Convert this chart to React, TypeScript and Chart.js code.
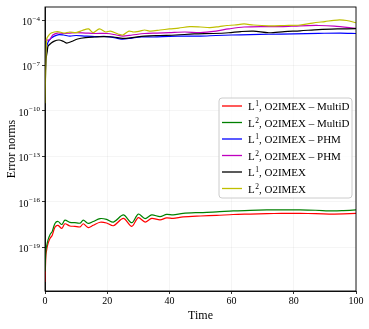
import { useEffect, useRef } from 'react';
import { Chart, registerables } from 'chart.js';

Chart.register(...registerables);

const SERIF = '"Liberation Serif", "DejaVu Serif", serif';

// ---- data (values stored as log10 exponents) ----
const xTickValues = [0, 20, 40, 60, 80, 100];
const yTickExponents = [-4, -7, -10, -13, -16, -19];

const timeGreen = [0, 0.3, 0.6, 1.0, 1.6, 2.3, 3.2, 4.2, 5.4, 6.4, 8, 9.6, 11.3, 12.3, 13.9, 15.5, 17.7, 19.8, 22, 25.2, 27.9, 30, 32.2, 34.3, 37, 39.1, 41.2, 44.4, 50, 55.2, 60.5, 66, 71.3, 76, 82, 87, 92.6, 96, 100];
const logGreen = [-20.6, -19.17, -18.84, -18.5, -18.17, -17.97, -17.43, -17.3, -17.5, -17.21, -17.36, -17.38, -17.41, -17.21, -17.43, -17.3, -17.11, -17.16, -17.34, -16.87, -17.38, -16.81, -17.11, -16.87, -16.98, -16.83, -16.87, -16.76, -16.71, -16.67, -16.6, -16.57, -16.54, -16.53, -16.54, -16.56, -16.6, -16.58, -16.54];

const timeRed = timeGreen;
const logRed = [-21.3, -19.5, -19.1, -18.75, -18.42, -18.22, -17.68, -17.56, -17.76, -17.45, -17.6, -17.62, -17.66, -17.45, -17.7, -17.55, -17.35, -17.4, -17.58, -17.1, -17.62, -17.05, -17.34, -17.1, -17.2, -17.06, -17.1, -17.0, -16.94, -16.9, -16.84, -16.81, -16.78, -16.77, -16.77, -16.78, -16.81, -16.8, -16.77];

const timeBlue = [0, 0.5, 1, 2, 3, 4.5, 6, 8, 10, 13, 16, 20, 23, 25, 28, 31, 35, 40, 45, 50, 55, 60, 66, 72, 80, 88, 95, 100];
const logBlue = [-8.0, -5.85, -5.45, -5.19, -5.06, -4.96, -4.99, -5.06, -5.02, -5.06, -5.09, -5.09, -5.19, -5.27, -5.19, -5.12, -5.12, -5.08, -5.06, -5.06, -5.02, -4.99, -4.96, -4.94, -4.91, -4.88, -4.86, -4.89];

const timeMagenta = [0, 1.5, 2.5, 4, 6, 8, 10, 13, 16, 20, 23, 25, 28, 32, 36, 40, 45, 50, 55, 59, 64, 70, 76, 82, 88, 93, 100];
const logMagenta = [-5.32, -5.3, -4.99, -4.86, -4.89, -4.86, -4.83, -4.86, -4.89, -4.89, -4.99, -5.06, -4.99, -4.89, -4.86, -4.83, -4.79, -4.83, -4.73, -4.59, -4.46, -4.43, -4.44, -4.38, -4.36, -4.4, -4.55];

const timeBlack = [0, 0.3, 0.7, 1, 2, 3, 4.5, 6, 7, 8.5, 10.5, 13, 16, 19, 22, 25, 28, 32, 37, 42, 48, 54, 59, 63, 67, 72, 77, 82, 88, 94, 100];
const logBlack = [-9.5, -6.64, -6.11, -5.72, -5.52, -5.39, -5.32, -5.42, -5.52, -5.42, -5.25, -5.16, -5.12, -5.09, -5.12, -5.21, -5.16, -5.06, -5.02, -4.99, -4.92, -4.89, -4.84, -4.76, -4.73, -4.84, -4.76, -4.71, -4.63, -4.59, -4.57];

const timeYellow = [0, 0.5, 1, 2, 4, 6, 8, 10, 12, 14, 15.5, 17.5, 19.5, 21, 23.5, 25, 27, 28.5, 30.5, 32, 34, 37, 40, 43, 46.6, 50, 53, 56, 58.5, 61, 64, 67, 72, 77, 82, 86, 90, 94, 97, 100];
const logYellow = [-9.5, -5.3, -5.06, -4.86, -4.76, -4.86, -4.79, -4.83, -4.69, -4.59, -4.83, -4.59, -4.79, -4.73, -4.92, -4.99, -4.73, -4.79, -4.73, -4.66, -4.73, -4.66, -4.59, -4.53, -4.44, -4.46, -4.5, -4.43, -4.36, -4.33, -4.26, -4.33, -4.38, -4.36, -4.33, -4.2, -4.1, -4.0, -4.03, -4.18];

const seriesSup = ['1', '2', '1', '2', '1', '2'];
const seriesRest = [', O2IMEX \u2013 MultiD', ', O2IMEX \u2013 MultiD', ', O2IMEX \u2013 PHM', ', O2IMEX \u2013 PHM', ', O2IMEX', ', O2IMEX'];
const seriesColors = ['#ff0000', '#008000', '#0000ff', '#bf00bf', '#000000', '#bfbf00'];
const seriesTimes = [timeRed, timeGreen, timeBlue, timeMagenta, timeBlack, timeYellow];
const seriesLogs = [logRed, logGreen, logBlue, logMagenta, logBlack, logYellow];

const yMinExp = -21.89;
const yMaxExp = -3.14;

const supMap: Record<string, string> = {};

function drawPower(ctx: CanvasRenderingContext2D, xRight: number, y: number, exp: number) {
  const base = '10';
  const e = '\u2212' + String(Math.abs(exp));
  ctx.font = `10px ${SERIF}`;
  const wb = ctx.measureText(base).width;
  ctx.font = `7px ${SERIF}`;
  const we = ctx.measureText(e).width;
  const x0 = xRight - we - wb - 0.5;
  ctx.textAlign = 'left';
  ctx.textBaseline = 'alphabetic';
  ctx.fillStyle = '#000';
  ctx.font = `10px ${SERIF}`;
  ctx.fillText(base, x0, y + 5);
  ctx.font = `7px ${SERIF}`;
  ctx.fillText(e, x0 + wb + 0.5, y + 0.5);
}

const axesPlugin = {
  id: 'axesDecor',
  afterDraw(chart: any) {
    const { ctx, chartArea } = chart;
    const yScale = chart.scales.y;
    ctx.save();
    // frame
    ctx.strokeStyle = '#000';
    ctx.lineWidth = 0.9;
    ctx.strokeRect(chartArea.left, chartArea.top, chartArea.right - chartArea.left, chartArea.bottom - chartArea.top);
    // y tick labels with superscripts
    yTickExponents.forEach((e) => {
      const py = yScale.getPixelForValue(Math.pow(10, e));
      drawPower(ctx, chartArea.left - 5, py, e);
    });
    // legend
    const w = 133;
    const h = 100;
    const x0 = chartArea.right - 4 - w;
    const y0 = chartArea.top + 91;
    ctx.beginPath();
    const r = 3;
    ctx.moveTo(x0 + r, y0);
    ctx.lineTo(x0 + w - r, y0);
    ctx.quadraticCurveTo(x0 + w, y0, x0 + w, y0 + r);
    ctx.lineTo(x0 + w, y0 + h - r);
    ctx.quadraticCurveTo(x0 + w, y0 + h, x0 + w - r, y0 + h);
    ctx.lineTo(x0 + r, y0 + h);
    ctx.quadraticCurveTo(x0, y0 + h, x0, y0 + h - r);
    ctx.lineTo(x0, y0 + r);
    ctx.quadraticCurveTo(x0, y0, x0 + r, y0);
    ctx.closePath();
    ctx.fillStyle = 'rgba(255,255,255,0.8)';
    ctx.fill();
    ctx.strokeStyle = '#cccccc';
    ctx.lineWidth = 1;
    ctx.stroke();
    for (let i = 0; i < seriesColors.length; i++) {
      const cy = y0 + 8 + i * 16.5;
      ctx.beginPath();
      ctx.moveTo(x0 + 3, cy);
      ctx.lineTo(x0 + 23, cy);
      ctx.strokeStyle = seriesColors[i];
      ctx.lineWidth = 1.3;
      ctx.stroke();
      ctx.fillStyle = '#000';
      ctx.textAlign = 'left';
      ctx.textBaseline = 'alphabetic';
      let tx = x0 + 29;
      ctx.font = `11px ${SERIF}`;
      ctx.fillText('L', tx, cy + 4);
      tx += ctx.measureText('L').width + 0.5;
      ctx.font = `7.5px ${SERIF}`;
      ctx.fillText(seriesSup[i], tx, cy);
      tx += ctx.measureText(seriesSup[i]).width;
      ctx.font = `11px ${SERIF}`;
      ctx.fillText(seriesRest[i], tx, cy + 4);
    }
    ctx.restore();
  },
};

export default function App() {
  const canvasRef = useRef<HTMLCanvasElement | null>(null);

  useEffect(() => {
    document.body.style.margin = '0';
    const canvas = canvasRef.current;
    if (!canvas) return;
    const datasets = seriesColors.map((color, i) => ({
      label: 'L' + seriesSup[i] + seriesRest[i],
      data: seriesTimes[i].map((t, k) => ({ x: t, y: Math.pow(10, seriesLogs[i][k]) })),
      borderColor: color,
      backgroundColor: color,
      borderWidth: 1.2,
      pointRadius: 0,
      tension: 0.3,
      fill: false,
      order: seriesColors.length - i,
    }));
    const chart = new Chart(canvas, {
      type: 'line',
      data: { datasets },
      options: {
        responsive: false,
        animation: false,
        maintainAspectRatio: false,
        layout: { padding: { top: 7, right: 13, left: 0, bottom: 0 } },
        plugins: { legend: { display: false }, tooltip: { enabled: false } },
        scales: {
          x: {
            type: 'linear',
            min: 0,
            max: 100,
            afterBuildTicks: (scale: any) => {
              scale.ticks = xTickValues.map((v) => ({ value: v }));
            },
            afterFit: (scale: any) => {
              scale.height = 38;
            },
            ticks: {
              color: '#000',
              font: { family: SERIF, size: 10 },
              padding: 1,
              maxRotation: 0,
              autoSkip: false,
            },
            grid: {
              color: 'rgba(0,0,0,0.05)',
              tickColor: '#000',
              tickLength: 3,
              lineWidth: 0.8,
            },
            border: { display: true, color: '#000', width: 0.9 },
            title: {
              display: true,
              text: 'Time',
              color: '#000',
              font: { family: SERIF, size: 12 },
              padding: { top: 0, bottom: 6 },
            },
          },
          y: {
            type: 'logarithmic',
            min: Math.pow(10, yMinExp),
            max: Math.pow(10, yMaxExp),
            afterBuildTicks: (scale: any) => {
              scale.ticks = yTickExponents.map((e) => ({ value: Math.pow(10, e) }));
            },
            afterFit: (scale: any) => {
              scale.width = 45;
            },
            ticks: { display: false },
            grid: {
              color: 'rgba(0,0,0,0.05)',
              tickColor: '#000',
              tickLength: 3,
              lineWidth: 0.8,
            },
            border: { display: true, color: '#000', width: 0.9 },
            title: {
              display: true,
              text: 'Error norms',
              color: '#000',
              font: { family: SERIF, size: 12 },
              padding: { top: 5, bottom: 0 },
            },
          },
        },
      },
      plugins: [axesPlugin],
    } as any);
    return () => chart.destroy();
  }, []);

  return (
    <div style={{ width: 369, height: 329 }}>
      <canvas ref={canvasRef} width={369} height={329} style={{ display: 'block', width: 369, height: 329 }} />
    </div>
  );
}
